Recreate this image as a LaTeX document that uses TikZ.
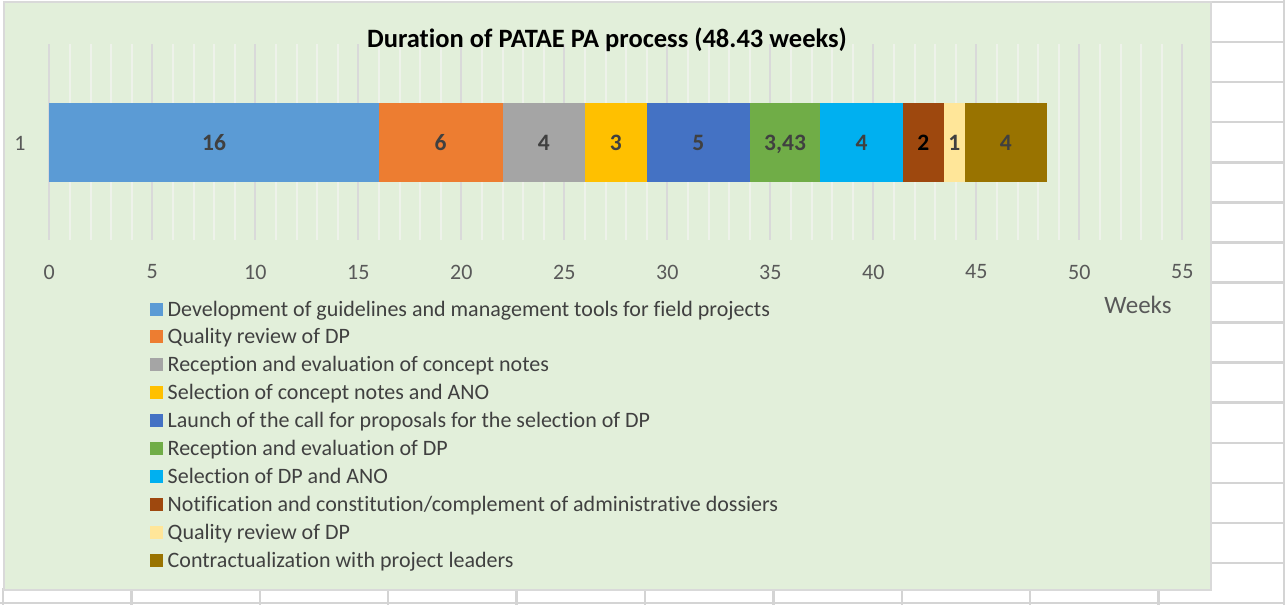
\documentclass[tikz,border=0pt]{standalone}
\usepackage{fontspec}
\setmainfont{Carlito}[Ligatures=NoCommon]
\definecolor{chartbg}{HTML}{E2EFDA}
\definecolor{chartborder}{HTML}{D9D9D9}
\definecolor{cellgray}{HTML}{D4D4D4}
\definecolor{majorgrid}{HTML}{D9D9D9}
\definecolor{minorgrid}{HTML}{EEF2EA}
\definecolor{txtdark}{HTML}{404040}
\definecolor{txtaxis}{HTML}{595959}
\definecolor{cA}{HTML}{5B9BD5}
\definecolor{cB}{HTML}{ED7D31}
\definecolor{cC}{HTML}{A5A5A5}
\definecolor{cD}{HTML}{FFC000}
\definecolor{cE}{HTML}{4472C4}
\definecolor{cF}{HTML}{70AD47}
\definecolor{cG}{HTML}{00B0F0}
\definecolor{cH}{HTML}{9E480E}
\definecolor{cI}{HTML}{FFE699}
\definecolor{cJ}{HTML}{997300}
\tikzset{
  cellline/.style={draw=cellgray, line width=2.5pt},
  minorline/.style={draw=minorgrid, line width=2pt},
  majorline/.style={draw=majorgrid, line width=2pt},
  barlabel/.style={font=\fontsize{23.5}{25}\selectfont\bfseries, inner sep=0pt, anchor=base},
  ticklabel/.style={font=\fontsize{22}{24}\selectfont, text=txtaxis, inner sep=0pt},
  legtext/.style={font=\fontsize{22}{24}\selectfont, text=txtdark, inner sep=0pt, anchor=base west},
  legmark/.style={minimum width=13pt, minimum height=13pt, inner sep=0pt, draw=none},
  titletext/.style={font=\fontsize{26.5}{29}\selectfont\bfseries, text=black, inner sep=0pt}
}
\begin{document}
\begin{tikzpicture}[x=1pt,y=-1pt]
\useasboundingbox (0,0) rectangle (1285,605);
% spreadsheet cells behind the chart
\foreach \k in {0,...,15} \draw[cellline] (1208,{2+40.07*\k}) -- (1285,{2+40.07*\k});
\draw[cellline] (1284,0) -- (1284,605);
\draw[cellline] (0,603) -- (1285,603);
\foreach \k in {1,...,9} \draw[cellline] ({3+128.4*\k},588) -- ({3+128.4*\k},605);
\draw[cellline] (3,588) -- (3,605);
% chart area
\draw[draw=chartborder, line width=2pt, fill=chartbg] (4,2) rectangle (1211,590);
% gridlines
\foreach \w in {0,...,55} \draw[minorline] ({49.3+20.6*\w},44) -- ({49.3+20.6*\w},240);
\foreach \w in {0,5,...,55} \draw[majorline] ({49.3+20.6*\w},44) -- ({49.3+20.6*\w},240);
% title
\node[titletext] (title) at (607,40) {Duration of PATAE PA process (48.43 weeks)};
% category label
\node[ticklabel] (cat) at (20,143) {1};
% bars
\foreach \s/\e/\c/\l/\t [count=\i] in {
  0/16/cA/16/txtdark, 16/22/cB/6/txtdark, 22/26/cC/4/txtdark,
  26/29/cD/3/txtdark, 29/34/cE/5/txtdark, 34/37.43/cF/{3,43}/txtdark,
  37.43/41.43/cG/4/txtdark, 41.43/43.43/cH/2/black,
  43.43/44.43/cI/1/txtdark, 44.43/48.43/cJ/4/txtdark} {
  \fill[\c] ({49.3+20.6*\s},103) rectangle ({49.3+20.6*\e},182);
  \node[barlabel, text=\t] (bar\i) at ({49.3+20.6*(\s+\e)/2},150.5) {\l};
}
% axis tick labels
\foreach \w in {0,5,...,55} \node[ticklabel] (tick\w) at ({49.3+20.6*\w},272) {\w};
\node[ticklabel, font=\fontsize{25}{27}\selectfont] (weeks) at (1138,305) {Weeks};
% legend
\foreach \c/\txt [count=\i] in {
  cA/{Development of guidelines and management tools for field projects},
  cB/{Quality review of DP},
  cC/{Reception and evaluation of concept notes},
  cD/{Selection of concept notes and ANO},
  cE/{Launch of the call for proposals for the selection of DP},
  cF/{Reception and evaluation of DP},
  cG/{Selection of DP and ANO},
  cH/{Notification and constitution/complement of administrative dossiers},
  cI/{Quality review of DP},
  cJ/{Contractualization with project leaders}} {
  \node[legmark, fill=\c] (mark\i) at (156.5,{309+27.9*(\i-1)}) {};
  \node[legtext] (leg\i) at (167.5,{316+27.9*(\i-1)}) {\txt};
}
\end{tikzpicture}
\end{document}
